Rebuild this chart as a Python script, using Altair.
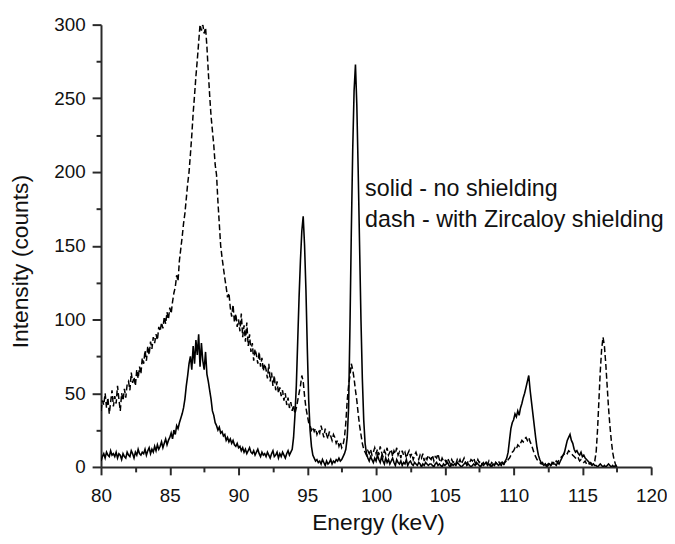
import altair as alt
import pandas as pd

# Spectrum, channels every 0.1 keV starting at 80.0 keV
start_kev = 80.0
step_kev = 0.1

solid_counts = [
    4, 7, 9, 6, 10, 8, 7, 11, 8, 9,
    7, 10, 6, 9, 8, 5, 9, 7, 6, 10,
    8, 7, 11, 9, 6, 10, 8, 12, 9, 8,
    10, 9, 12, 8, 11, 13, 9, 12, 10, 14,
    11, 15, 12, 14, 17, 13, 16, 19, 15, 18,
    20, 23, 19, 25, 22, 28, 26, 30, 33, 36,
    40, 46, 55, 62, 70, 75, 66, 82, 70, 86,
    76, 90, 68, 84, 72, 66, 78, 63, 58, 52,
    46, 38, 35, 30, 28, 25, 27, 23, 24, 21,
    22, 18, 20, 17, 19, 16, 18, 15, 14, 16,
    13, 14, 11, 13, 10, 12, 9, 11, 13, 10,
    9, 11, 8, 10, 12, 9, 7, 10, 8, 9,
    7, 10, 8, 6, 9, 11, 7, 8, 10, 6,
    9, 7, 10, 8, 6, 9, 11, 8, 10, 12,
    20, 35, 55, 85, 115, 140, 160, 170, 150, 120,
    80, 45, 25, 14, 8, 6, 4, 5, 3, 4,
    2, 5, 3, 1, 4, 2, 3, 5, 2, 4,
    3, 5, 4, 6, 4, 5, 7, 9, 12, 20,
    40, 95, 160, 215, 255, 273, 245, 200, 150, 100,
    60, 32, 16, 9, 6, 4, 7, 5, 3, 6,
    4, 8, 5, 3, 7, 4, 2, 6, 3, 5,
    2, 4, 6, 3, 1, 5, 3, 2, 4, 1,
    3, 2, 5, 1, 3, 4, 2, 1, 3, 2,
    1, 3, 2, 0, 2, 1, 3, 2, 1, 2,
    2, 1, 0, 2, 3, 1, 2, 1, 0, 2,
    1, 2, 3, 1, 0, 2, 1, 2, 1, 3,
    2, 1, 0, 1, 2, 3, 1, 2, 1, 0,
    1, 2, 1, 3, 2, 1, 0, 2, 1, 2,
    3, 1, 2, 1, 0, 2, 1, 3, 2, 1,
    2, 1, 3, 2, 4, 6, 10, 18, 26, 30,
    32, 36, 34, 38, 35, 40, 43, 47, 50, 54,
    58, 62, 52, 44, 36, 28, 20, 13, 8, 5,
    3, 2, 1, 2, 0, 1, 2, 1, 3, 2,
    2, 1, 3, 2, 4, 6, 8, 10, 14, 18,
    20, 22, 18, 16, 12, 10, 11, 9, 8, 10,
    7, 8, 6, 5, 4, 3, 2, 1, 2, 1,
    1, 0, 1, 2, 1, 0, 1, 0, 1, 2,
    1, 0, 1, 0, 1, 0,
]

dash_counts = [
    38, 45, 42, 50, 40, 47, 36, 44, 52, 41,
    48, 43, 55, 46, 38, 50, 45, 53, 47, 56,
    58, 52, 64, 57, 61, 55, 66, 60, 68, 63,
    74, 70, 79, 72, 82, 76, 85, 80, 88, 84,
    90, 86, 95, 92, 98, 94, 102, 97, 105, 100,
    108, 104, 112, 118, 122, 130, 126, 140, 148, 156,
    165, 172, 182, 192, 200, 212, 225, 240, 252, 265,
    276, 288, 300, 296, 300, 294, 298, 285, 268, 252,
    238, 228, 218, 205, 198, 180, 165, 150, 142, 135,
    128, 122, 115, 118, 108, 102, 110, 98, 104, 95,
    100, 92, 104, 88, 96, 85, 98, 82, 90, 78,
    84, 72, 80, 76, 70, 78, 68, 74, 65, 70,
    66, 60, 70, 58, 64, 55, 62, 52, 58, 50,
    54, 48, 52, 45, 50, 42, 47, 40, 44, 38,
    42, 36, 40, 45, 50, 55, 62, 58, 48, 40,
    35, 30, 28, 25, 27, 24, 26, 22, 25, 23,
    28, 24, 20, 26, 22, 19, 24, 21, 18, 22,
    20, 16, 18, 14, 17, 13, 15, 20, 30, 45,
    55, 62, 70, 66, 60, 52, 45, 36, 28, 22,
    16, 12, 10, 8, 11, 9, 12, 8, 10, 13,
    9, 12, 8, 14, 10, 7, 11, 9, 13, 8,
    10, 12, 7, 11, 9, 13, 8, 10, 6, 11,
    8, 10, 6, 9, 11, 7, 9, 5, 8, 10,
    7, 5, 8, 6, 9, 4, 7, 5, 8, 6,
    5, 8, 4, 7, 6, 9, 5, 3, 6, 4,
    5, 3, 6, 4, 2, 5, 3, 4, 2, 5,
    3, 5, 2, 4, 6, 3, 2, 4, 3, 5,
    4, 6, 3, 2, 5, 3, 4, 2, 3, 1,
    3, 2, 4, 1, 3, 2, 1, 3, 2, 4,
    2, 3, 1, 2, 4, 3, 5, 6, 8, 10,
    11, 13, 12, 15, 14, 16, 18, 17, 19, 20,
    18, 20, 17, 15, 12, 9, 7, 5, 4, 3,
    2, 3, 1, 2, 1, 2, 3, 1, 2, 3,
    2, 4, 3, 5, 6, 7, 8, 9, 10, 9,
    11, 10, 9, 8, 7, 6, 5, 6, 4, 5,
    4, 3, 4, 2, 3, 2, 3, 2, 3, 4,
    10, 25, 45, 65, 80, 88, 82, 70, 55, 40,
    28, 18, 10, 5, 2, 0,
]

x_ticks = [80, 82.5, 85, 87.5, 90, 92.5, 95, 97.5, 100, 102.5, 105, 107.5,
           110, 112.5, 115, 117.5, 120]
y_ticks = [0, 25, 50, 75, 100, 125, 150, 175, 200, 225, 250, 275, 300]

note_lines = ["solid - no shielding", "dash - with Zircaloy shielding"]
note_x = [99.2, 99.2]
note_y = [184, 162.6]

energy = [round(start_kev + step_kev * i, 1) for i in range(len(solid_counts))]
solid_df = pd.DataFrame({"energy": energy, "counts": solid_counts})
dash_df = pd.DataFrame({"energy": energy[:len(dash_counts)], "counts": dash_counts})
note_df = pd.DataFrame({"energy": note_x, "counts": note_y, "text": note_lines})

FONT = "Liberation Sans"
AXIS_COLOR = "#2a2a2a"

x_enc = alt.X(
    "energy:Q",
    scale=alt.Scale(domain=[80, 120], nice=False, zero=False),
    axis=alt.Axis(
        title="Energy (keV)",
        values=x_ticks,
        labelExpr="datum.value % 5 === 0 ? datum.label : ''",
        tickSize={"condition": {"test": "datum.value % 5 === 0", "value": 8}, "value": 5},
        labelPadding=12,
        labelFontSize=19,
        labelFont=FONT,
        labelColor="#111111",
        labelFlush=False,
        titleFontSize=23,
        titleFont=FONT,
        titleFontWeight="normal",
        titleColor="#111111",
        titleX=280,
        titleY=63,
        titleBaseline="alphabetic",
        titleAnchor="middle",
        domainColor=AXIS_COLOR,
        domainWidth=2,
        tickColor=AXIS_COLOR,
        tickWidth=2,
        grid=False,
    ),
)

y_enc = alt.Y(
    "counts:Q",
    scale=alt.Scale(domain=[0, 300], nice=False),
    axis=alt.Axis(
        title="Intensity (counts)",
        values=y_ticks,
        labelExpr="datum.value % 50 === 0 ? datum.label : ''",
        tickSize={"condition": {"test": "datum.value % 50 === 0", "value": 9}, "value": 5},
        labelPadding=7,
        labelFontSize=19,
        labelFont=FONT,
        labelColor="#111111",
        labelFlush=False,
        titleFontSize=23,
        titleFont=FONT,
        titleFontWeight="normal",
        titleColor="#111111",
        titleX=-74,
        titleY=239,
        titleAngle=-90,
        titleBaseline="alphabetic",
        titleAnchor="middle",
        domainColor=AXIS_COLOR,
        domainWidth=2,
        tickColor=AXIS_COLOR,
        tickWidth=2,
        grid=False,
    ),
)

solid_line = alt.Chart(solid_df).mark_line(
    color="#000000", strokeWidth=1.6, clip=True
).encode(x=x_enc, y=y_enc)

dash_line = alt.Chart(dash_df).mark_line(
    color="#000000", strokeWidth=1.5, strokeDash=[6, 3], clip=True
).encode(x=x_enc, y=y_enc)

notes = alt.Chart(note_df).mark_text(
    align="left", baseline="alphabetic", fontSize=23.5, font=FONT, color="#111111"
).encode(x=x_enc, y=y_enc, text="text:N")

chart = alt.layer(solid_line, dash_line, notes).properties(
    width=556,
    height=447,
    autosize=alt.AutoSizeParams(type="none"),
    padding={"left": 94, "top": 14, "right": 16, "bottom": 68},
    background="white",
).configure_view(stroke=None)

chart.save("out.html", embed_options={"renderer": "svg", "actions": False})
